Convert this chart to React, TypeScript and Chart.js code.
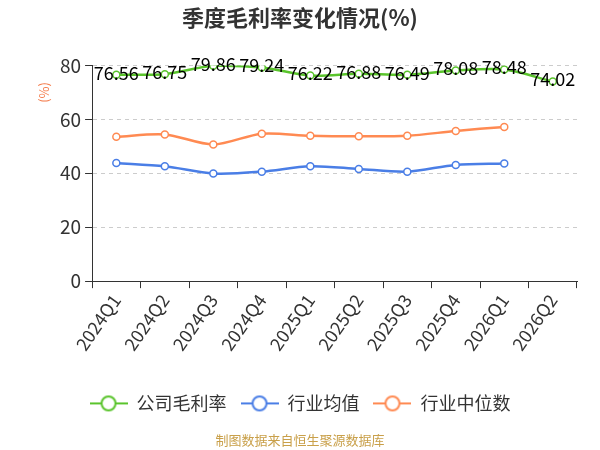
import React, { useEffect, useRef } from 'react'
import { Chart, registerables } from 'chart.js'

Chart.register(...registerables)

const FONT = '"Noto Sans CJK SC", "Noto Sans", sans-serif'

const quarters = [
	'2024Q1',
	'2024Q2',
	'2024Q3',
	'2024Q4',
	'2025Q1',
	'2025Q2',
	'2025Q3',
	'2025Q4',
	'2026Q1',
	'2026Q2',
]
const companyMargin = [76.56, 76.75, 79.86, 79.24, 76.22, 76.88, 76.49, 78.08, 78.48, 74.02]
const industryAvg = [43.8, 42.6, 39.9, 40.6, 42.6, 41.6, 40.6, 43.1, 43.6, null]
const industryMedian = [53.5, 54.4, 50.7, 54.7, 53.9, 53.7, 53.9, 55.7, 57.2, null]
const yTicks = [0, 20, 40, 60, 80]

const GREEN = '#5ac42c'
const BLUE = '#4a7ee6'
const ORANGE = '#ff8a52'

// legend marker: short line with a hollow circle in the middle
function legendMarker(color: string) {
	const c = document.createElement('canvas')
	c.width = 38
	c.height = 18
	const g = c.getContext('2d')!
	g.strokeStyle = color
	g.lineWidth = 2
	g.beginPath()
	g.moveTo(0, 9)
	g.lineTo(38, 9)
	g.stroke()
	g.beginPath()
	g.arc(19, 9, 7, 0, Math.PI * 2)
	g.fillStyle = '#fff'
	g.fill()
	g.stroke()
	return c
}

const valueLabels = {
	id: 'valueLabels',
	afterDatasetsDraw(chart: any) {
		const { ctx } = chart
		const meta = chart.getDatasetMeta(0)
		ctx.save()
		ctx.font = `18px ${FONT}`
		ctx.fillStyle = '#000'
		ctx.textAlign = 'center'
		ctx.textBaseline = 'middle'
		meta.data.forEach((pt: any, i: number) => {
			ctx.fillText(companyMargin[i].toFixed(2), pt.x, pt.y - 2)
		})
		ctx.restore()
	},
}

const unitLabel = {
	id: 'unitLabel',
	afterDraw(chart: any) {
		const { ctx, chartArea } = chart
		ctx.save()
		ctx.translate(chartArea.left - 48, chartArea.top + 27)
		ctx.rotate(-Math.PI / 2)
		ctx.font = `13px ${FONT}`
		ctx.fillStyle = '#f47b4a'
		ctx.textAlign = 'center'
		ctx.textBaseline = 'middle'
		ctx.fillText('(%)', 0, 0)
		ctx.restore()
	},
}

const App: React.FC = () => {
	const chartRef = useRef<HTMLCanvasElement>(null)

	useEffect(() => {
		document.body.style.margin = '0'
		if (!chartRef.current) return
		const context = chartRef.current.getContext('2d')
		if (!context) return

		const colors = [GREEN, BLUE, ORANGE]
		const line = (label: string, data: (number | null)[], color: string) => ({
			label,
			data,
			borderColor: color,
			backgroundColor: '#fff',
			borderWidth: 2.5,
			pointRadius: 3.5,
			pointBorderWidth: 1.5,
			pointBackgroundColor: '#fff',
			pointBorderColor: color,
			tension: 0.3,
		})

		const chart = new Chart(context, {
			type: 'line',
			data: {
				labels: quarters,
				datasets: [
					line('公司毛利率', companyMargin, GREEN),
					line('行业均值', industryAvg, BLUE),
					line('行业中位数', industryMedian, ORANGE),
				],
			},
			options: {
				animation: false,
				responsive: false,
				layout: { padding: { left: 23, right: 23, top: 0, bottom: 0 } },
				plugins: {
					title: {
						display: true,
						text: '季度毛利率变化情况(%)',
						color: '#333',
						font: { family: FONT, size: 22, weight: 'bold' },
						padding: { top: 4, bottom: 35 },
					},
					subtitle: {
						display: true,
						position: 'bottom',
						text: '制图数据来自恒生聚源数据库',
						color: '#c9a04a',
						font: { family: FONT, size: 13 },
						padding: { top: 10, bottom: 2 },
					},
					legend: {
						position: 'bottom',
						labels: {
							usePointStyle: true,
							pointStyleWidth: 38,
							color: '#333',
							font: { family: FONT, size: 18 },
							padding: 14,
							generateLabels: (ch: any) =>
								Chart.defaults.plugins.legend.labels
									.generateLabels(ch)
									.map((item: any, i: number) => ({
										...item,
										pointStyle: legendMarker(colors[i]),
									})),
						},
					},
					tooltip: { enabled: false },
				},
				scales: {
					x: {
						offset: true,
						afterFit: (scale: any) => {
							scale.height += 24
						},
						grid: {
							offset: true,
							drawOnChartArea: false,
							tickLength: 7,
							tickColor: '#333',
						},
						border: { color: '#333', width: 1 },
						ticks: {
							color: '#333',
							font: { family: FONT, size: 18 },
							minRotation: 55,
							maxRotation: 55,
							padding: 2,
						},
					},
					y: {
						min: 0,
						max: 80,
						afterBuildTicks: (scale: any) => {
							scale.ticks = yTicks.map((v) => ({ value: v }))
						},
						afterFit: (scale: any) => {
							scale.width += 33
						},
						grid: {
							color: (c: any) => (c.tick && c.tick.value === 0 ? 'rgba(0,0,0,0)' : '#ccc'),
							tickLength: 7,
							tickColor: '#333',
							tickBorderDash: [],
						},
						border: { color: '#333', width: 1, dash: [4, 4] },
						ticks: {
							color: '#333',
							font: { family: FONT, size: 19 },
							padding: 4,
						},
					},
				},
			},
			plugins: [valueLabels, unitLabel],
		})

		return () => {
			chart.destroy()
		}
	}, [])

	return <canvas ref={chartRef} width={600} height={450} />
}

export default App
